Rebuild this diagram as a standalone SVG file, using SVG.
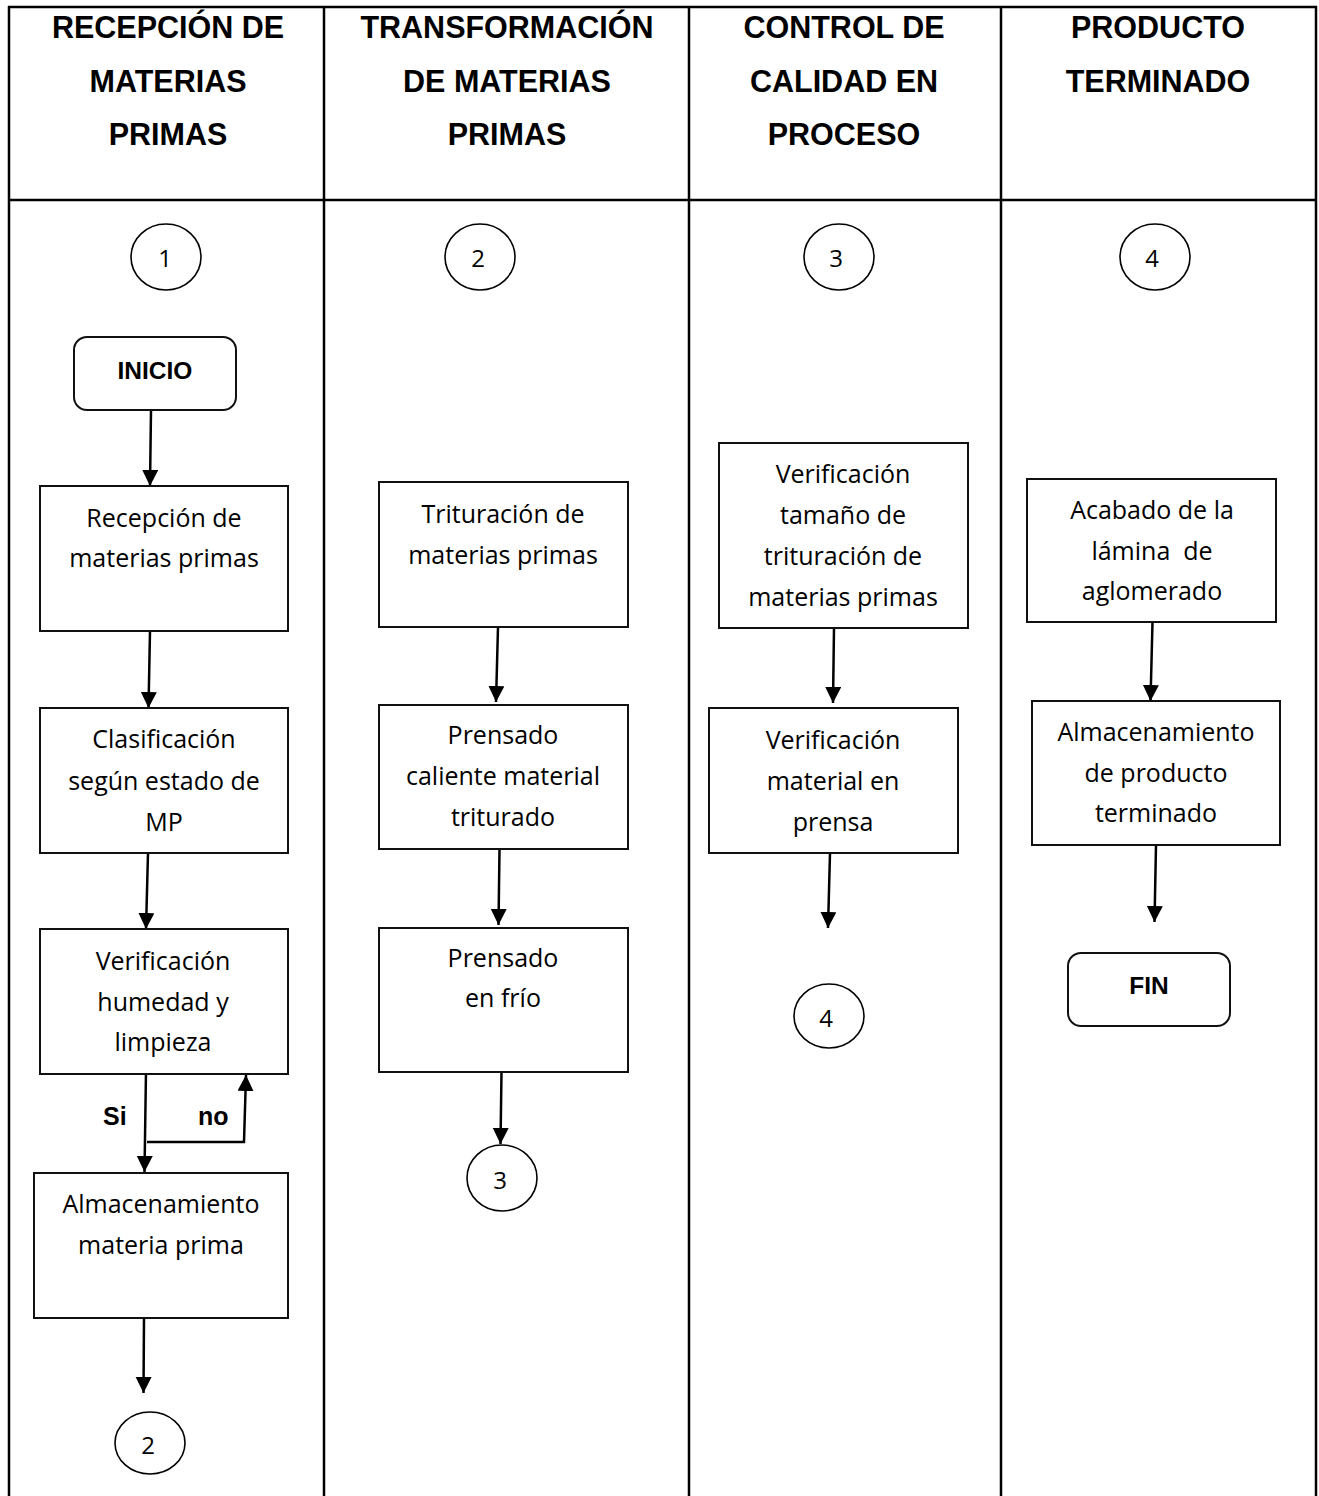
<svg xmlns="http://www.w3.org/2000/svg" width="1319" height="1496" viewBox="0 0 1319 1496">
<style>
.grid{stroke:#000;stroke-width:2.5;fill:none}
.hdr{font-family:"Liberation Sans",Arial,sans-serif;font-weight:bold;font-size:30.5px;fill:#000;text-anchor:middle}
.box{fill:#fff;stroke:#111;stroke-width:2}
.term{fill:#fff;stroke:#111;stroke-width:2}
.txt{font-family:"Open Sans","Noto Sans",sans-serif;font-size:25px;fill:#000;text-anchor:middle}
.btxt{font-family:"Liberation Sans",Arial,sans-serif;font-weight:bold;font-size:24.5px;fill:#000;text-anchor:middle}
.lbl{font-family:"Liberation Sans",Arial,sans-serif;font-weight:bold;font-size:25px;fill:#000}
.conn{fill:#fff;stroke:#000;stroke-width:1.6}
.num{font-family:"Open Sans","Noto Sans",sans-serif;font-size:24px;fill:#000;text-anchor:middle}
.edge{stroke:#000;stroke-width:2.5;fill:none}
</style>
<defs>
<marker id="ah" markerUnits="userSpaceOnUse" markerWidth="18" markerHeight="17" refX="16" refY="8" orient="auto">
<path d="M0,0 L16,8 L0,16 z" fill="#000"/>
</marker>
</defs>
<rect width="1319" height="1496" fill="#fff"/>
<g id="table">
<line class="grid" x1="8" y1="7" x2="1317" y2="7"/>
<line class="grid" x1="8" y1="200" x2="1317" y2="200"/>
<line class="grid" x1="9" y1="6" x2="9" y2="1496"/>
<line class="grid" x1="324" y1="6" x2="324" y2="1496"/>
<line class="grid" x1="689" y1="6" x2="689" y2="1496"/>
<line class="grid" x1="1001" y1="6" x2="1001" y2="1496"/>
<line class="grid" x1="1316" y1="6" x2="1316" y2="1496"/>
</g>
<g id="headers">
<text class="hdr" x="168" y="38">RECEPCIÓN DE</text>
<text class="hdr" x="168" y="91.5">MATERIAS</text>
<text class="hdr" x="168" y="145">PRIMAS</text>
<text class="hdr" x="507" y="38">TRANSFORMACIÓN</text>
<text class="hdr" x="507" y="91.5">DE MATERIAS</text>
<text class="hdr" x="507" y="145">PRIMAS</text>
<text class="hdr" x="844" y="38">CONTROL DE</text>
<text class="hdr" x="844" y="91.5">CALIDAD EN</text>
<text class="hdr" x="844" y="145">PROCESO</text>
<text class="hdr" x="1158" y="38">PRODUCTO</text>
<text class="hdr" x="1158" y="91.5">TERMINADO</text>
</g>
<g id="connectors">
<line class="edge" x1="151" y1="410" x2="150" y2="486" marker-end="url(#ah)"/>
<line class="edge" x1="150" y1="631" x2="148.5" y2="708" marker-end="url(#ah)"/>
<line class="edge" x1="148" y1="853" x2="146" y2="929" marker-end="url(#ah)"/>
<line class="edge" x1="146" y1="1071" x2="144.5" y2="1172" marker-end="url(#ah)"/>
<polyline class="edge" points="147,1142 244,1142 246,1075" marker-end="url(#ah)"/>
<line class="edge" x1="144" y1="1318" x2="143.5" y2="1393" marker-end="url(#ah)"/>
<line class="edge" x1="498" y1="627" x2="496" y2="702" marker-end="url(#ah)"/>
<line class="edge" x1="499.5" y1="849" x2="498.5" y2="925" marker-end="url(#ah)"/>
<line class="edge" x1="501.5" y1="1072" x2="500.5" y2="1144" marker-end="url(#ah)"/>
<line class="edge" x1="834" y1="628" x2="833" y2="703" marker-end="url(#ah)"/>
<line class="edge" x1="830" y1="853" x2="828" y2="928" marker-end="url(#ah)"/>
<line class="edge" x1="1152.5" y1="622" x2="1150.5" y2="701" marker-end="url(#ah)"/>
<line class="edge" x1="1156" y1="845" x2="1154.5" y2="922" marker-end="url(#ah)"/>
</g>
<g id="c1"><ellipse class="conn" cx="166" cy="257" rx="35" ry="33"/><text class="num" x="165" y="267">1</text></g>
<g id="c2"><ellipse class="conn" cx="480" cy="257" rx="35" ry="33"/><text class="num" x="478" y="267">2</text></g>
<g id="c3"><ellipse class="conn" cx="839" cy="257" rx="35" ry="33"/><text class="num" x="836" y="267">3</text></g>
<g id="c4"><ellipse class="conn" cx="1155" cy="257" rx="35" ry="33"/><text class="num" x="1152" y="267">4</text></g>
<g id="inicio"><rect class="term" x="74" y="337" width="162" height="73" rx="13"/><text class="btxt" x="155" y="379">INICIO</text></g>
<g id="recepcion"><rect class="box" x="40" y="486" width="248" height="145"/>
<text class="txt" x="164" y="527">Recepción de</text><text class="txt" x="164" y="567">materias primas</text></g>
<g id="clasificacion"><rect class="box" x="40" y="708" width="248" height="145"/>
<text class="txt" x="164" y="748">Clasificación</text><text class="txt" x="164" y="790">según estado de</text><text class="txt" x="164" y="831">MP</text></g>
<g id="verif-humedad"><rect class="box" x="40" y="929" width="248" height="145"/>
<text class="txt" x="163" y="970">Verificación</text><text class="txt" x="163" y="1011">humedad y</text><text class="txt" x="163" y="1051">limpieza</text></g>
<g id="labels"><text class="lbl" x="103" y="1125">Si</text><text class="lbl" x="198" y="1125">no</text></g>
<g id="almacen-mp"><rect class="box" x="34" y="1173" width="254" height="145"/>
<text class="txt" x="161" y="1213">Almacenamiento</text><text class="txt" x="161" y="1254">materia prima</text></g>
<g id="c2b"><ellipse class="conn" cx="150" cy="1443" rx="35" ry="31"/><text class="num" x="148" y="1454">2</text></g>
<g id="trituracion"><rect class="box" x="379" y="482" width="249" height="145"/>
<text class="txt" x="503" y="523">Trituración de</text><text class="txt" x="503" y="564">materias primas</text></g>
<g id="prensado-caliente"><rect class="box" x="379" y="705" width="249" height="144"/>
<text class="txt" x="503" y="744">Prensado</text><text class="txt" x="503" y="785">caliente material</text><text class="txt" x="503" y="826">triturado</text></g>
<g id="prensado-frio"><rect class="box" x="379" y="928" width="249" height="144"/>
<text class="txt" x="503" y="967">Prensado</text><text class="txt" x="503" y="1007">en frío</text></g>
<g id="c3b"><ellipse class="conn" cx="502" cy="1178" rx="35" ry="33"/><text class="num" x="500" y="1189">3</text></g>
<g id="verif-tamano"><rect class="box" x="719" y="443" width="249" height="185"/>
<text class="txt" x="843" y="483">Verificación</text><text class="txt" x="843" y="524">tamaño de</text><text class="txt" x="843" y="565">trituración de</text><text class="txt" x="843" y="606">materias primas</text></g>
<g id="verif-prensa"><rect class="box" x="709" y="708" width="249" height="145"/>
<text class="txt" x="833" y="749">Verificación</text><text class="txt" x="833" y="790">material en</text><text class="txt" x="833" y="831">prensa</text></g>
<g id="c4b"><ellipse class="conn" cx="829" cy="1016" rx="35" ry="32"/><text class="num" x="826" y="1027">4</text></g>
<g id="acabado"><rect class="box" x="1027" y="479" width="249" height="143"/>
<text class="txt" x="1152" y="519">Acabado de la</text><text class="txt" x="1152" y="560" xml:space="preserve">lámina  de</text><text class="txt" x="1152" y="600">aglomerado</text></g>
<g id="almacen-pt"><rect class="box" x="1032" y="701" width="248" height="144"/>
<text class="txt" x="1156" y="741">Almacenamiento</text><text class="txt" x="1156" y="782">de producto</text><text class="txt" x="1156" y="822">terminado</text></g>
<g id="fin"><rect class="term" x="1068" y="953" width="162" height="73" rx="13"/><text class="btxt" x="1149" y="994">FIN</text></g>
</svg>
